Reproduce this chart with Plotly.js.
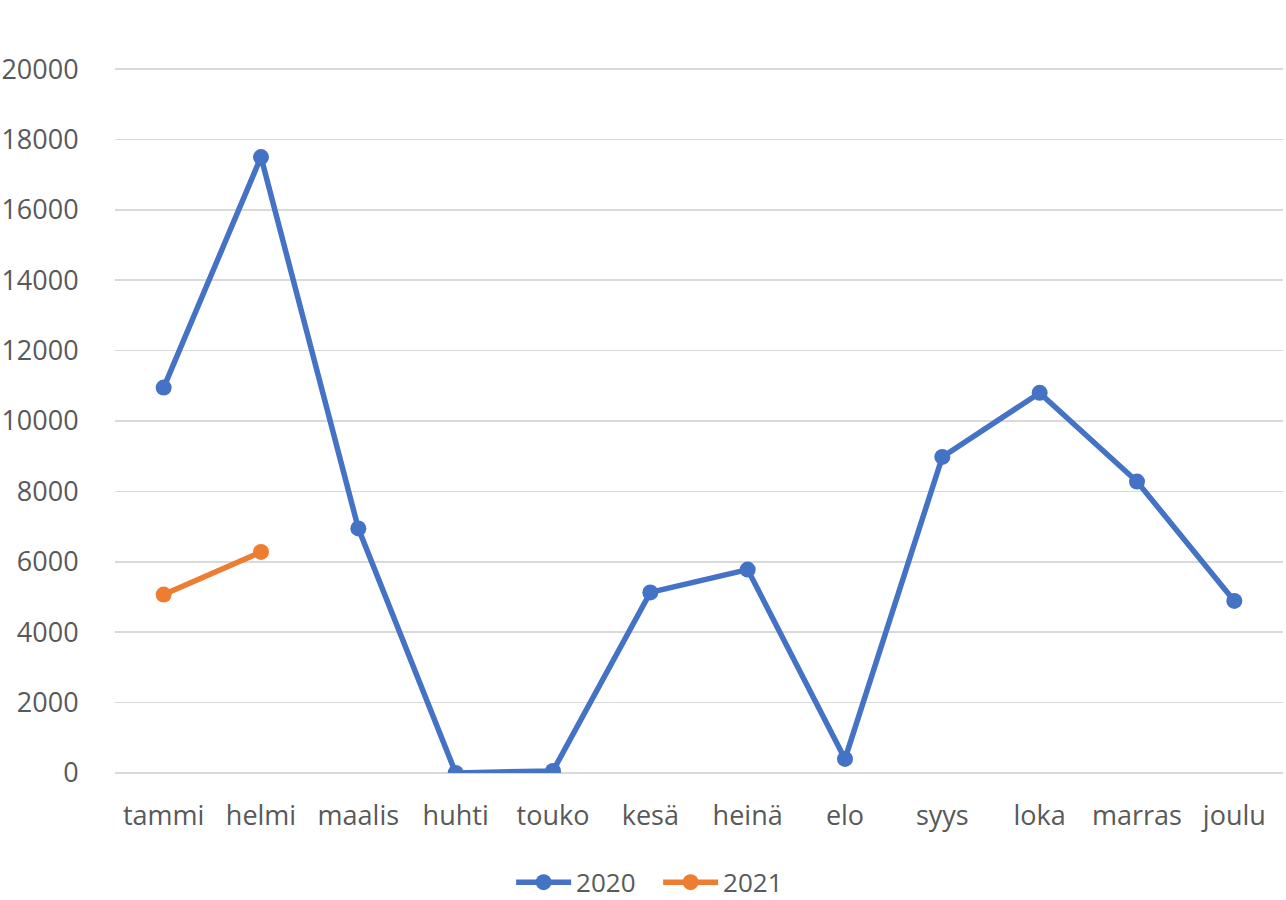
<!DOCTYPE html>
<html>
<head>
<meta charset="utf-8">
<script src="https://cdn.plot.ly/plotly-3.0.1.min.js"></script>
<style>html,body{margin:0;padding:0;background:#fff;}#chart{width:1286px;height:900px;}</style>
</head>
<body>
<div id="chart"></div>
<script>
const months = ["tammi","helmi","maalis","huhti","touko","kesä","heinä","elo","syys","loka","marras","joulu"];
const values2020 = [10950, 17500, 6950, 0, 60, 5130, 5780, 400, 8980, 10800, 8280, 4890];
const months2021 = ["tammi","helmi"];
const values2021 = [5070, 6280];
const yTicks = [0,2000,4000,6000,8000,10000,12000,14000,16000,18000,20000];

const traces = [
  {x: months, y: values2020, name: "2020", type: "scatter", mode: "lines+markers",
   line: {color: "#4472C4", width: 5.5}, marker: {color: "#4472C4", size: 16}},
  {x: months2021, y: values2021, name: "2021", type: "scatter", mode: "lines+markers",
   line: {color: "#ED7D31", width: 5.5}, marker: {color: "#ED7D31", size: 16}}
];

const layout = {
  width: 1286, height: 900,
  margin: {l: 115, r: 3, t: 68, b: 127, autoexpand: false},
  paper_bgcolor: "#fff", plot_bgcolor: "#fff",
  font: {family: "Open Sans, sans-serif", size: 27, color: "#595959"},
  showlegend: true,
  xaxis: {
    type: "category", categoryorder: "array", categoryarray: months,
    range: [-0.5, 11.5], showgrid: false, zeroline: false, showline: false,
    ticks: "outside", ticklen: 19, tickcolor: "rgba(0,0,0,0)",
    tickfont: {size: 27, color: "#595959"}
  },
  yaxis: {
    range: [0, 20030], tickvals: yTicks, ticktext: yTicks.map(String),
    showgrid: true, gridcolor: "#d9d9d9", gridwidth: 1.5,
    zeroline: true, zerolinecolor: "#d9d9d9", zerolinewidth: 1.5,
    showline: false, ticks: "outside", ticklen: 30, tickcolor: "rgba(0,0,0,0)",
    tickfont: {size: 27, color: "#595959"}
  },
  legend: {
    orientation: "h", x: 0.465, xanchor: "center", y: -0.155, yanchor: "middle",
    font: {size: 26, color: "#595959"}, itemwidth: 55, entrywidth: 77, tracegroupgap: 0
  }
};

Plotly.newPlot("chart", traces, layout, {displayModeBar: false, staticPlot: true});
</script>
</body>
</html>
